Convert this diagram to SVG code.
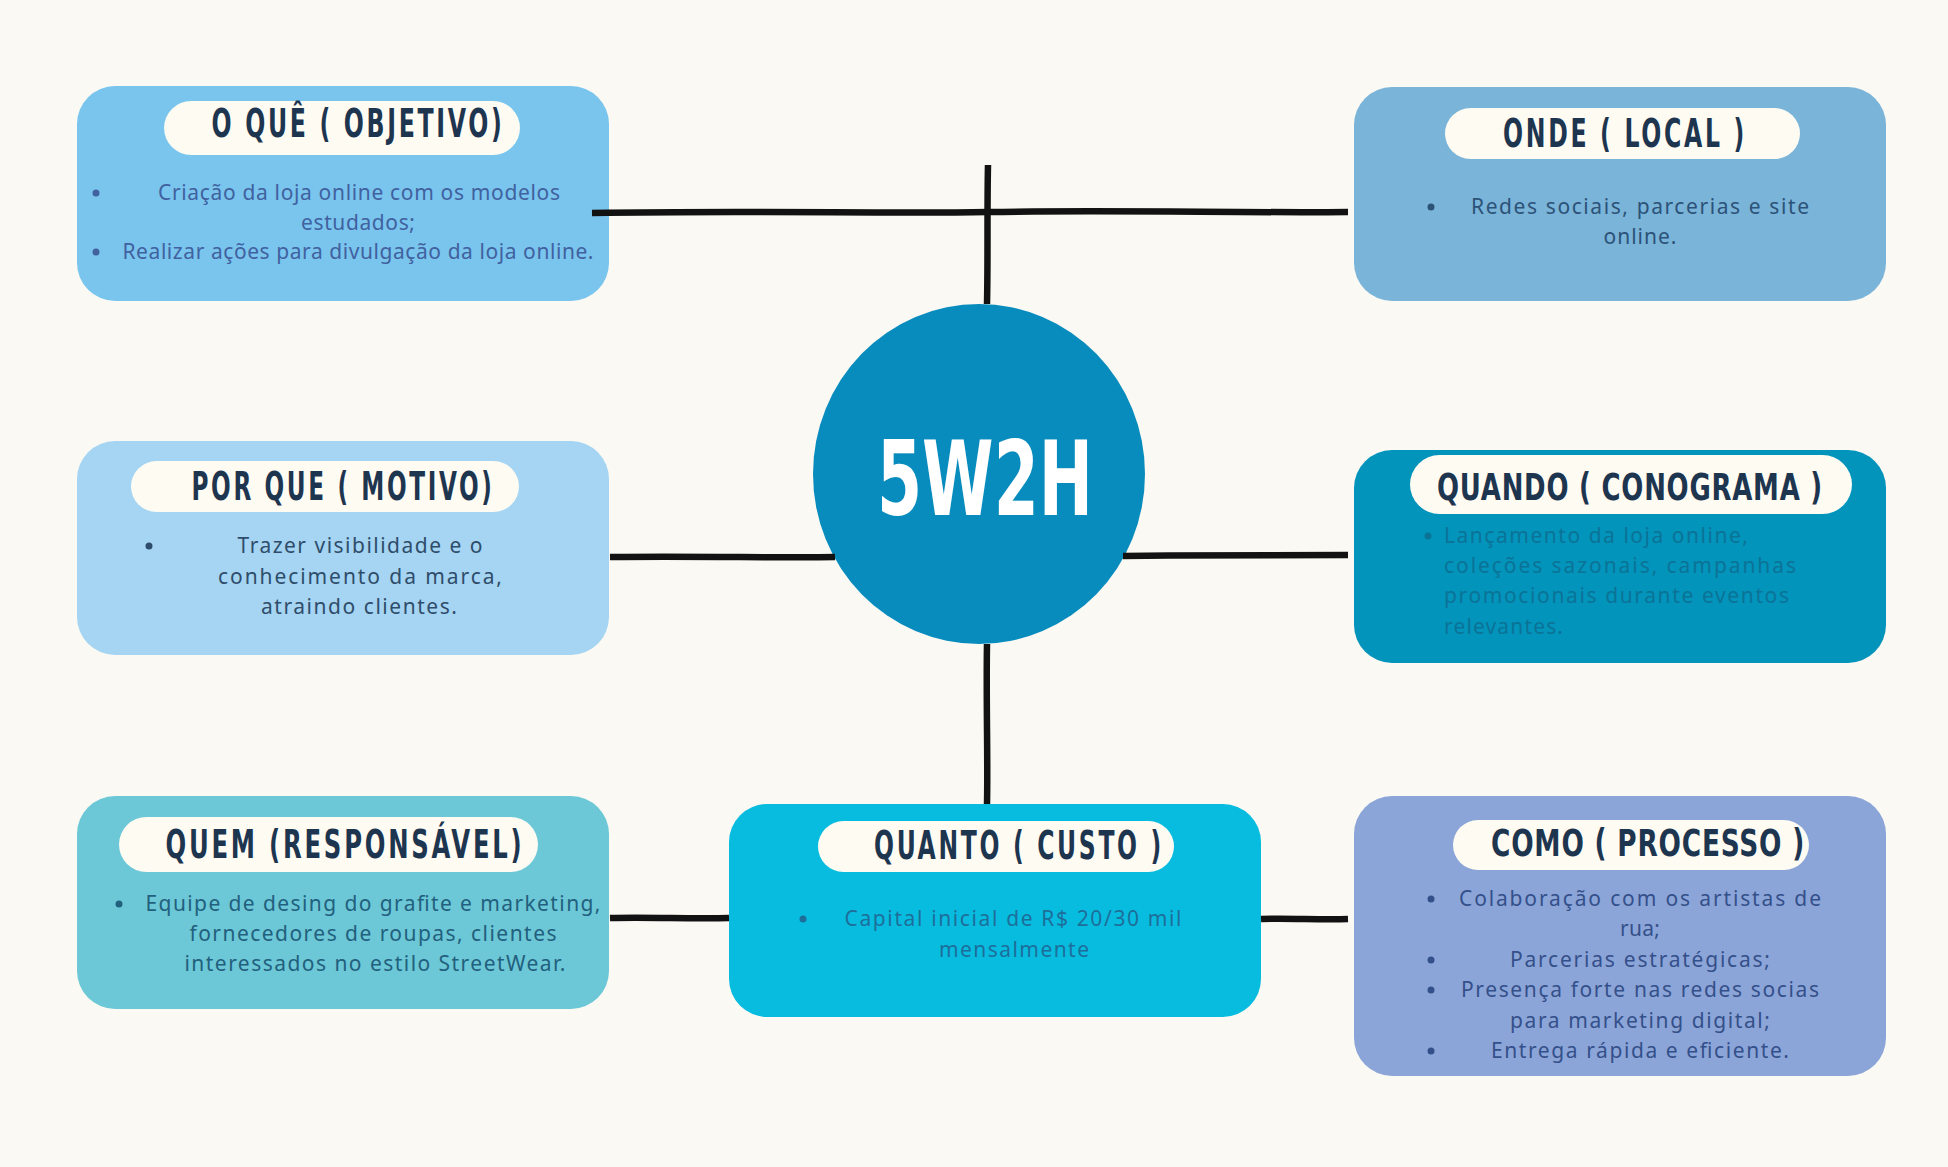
<svg xmlns="http://www.w3.org/2000/svg" width="1948" height="1167" viewBox="0 0 1948 1167">
  <style>
    .card { stroke: none; }
    .pill { fill: #FDFBF2; }
    .title { font-family: 'Liberation Sans Narrow', 'DejaVu Sans Condensed', 'DejaVu Sans', sans-serif; font-weight: bold; font-size: 39px; fill: #1E3550; letter-spacing: 4px; }
    .title.tight { font-size: 37px; letter-spacing: 1px; }
    .body { font-family: 'Noto Sans', 'Open Sans', sans-serif; font-size: 21px; }
    .hub { font-family: 'DejaVu Sans Condensed', 'DejaVu Sans', sans-serif; font-weight: bold; font-size: 104px; fill: #FFFFFF; }
    .line { fill: none; stroke: #121212; stroke-width: 6.5; stroke-linecap: butt; stroke-linejoin: round; }
  </style>

  <!-- page -->
  <rect x="0" y="0" width="1948" height="1167" fill="#FAF9F3"/>

  <!-- O QUÊ -->
  <g id="node-oque">
    <rect class="card" x="77" y="86" width="532" height="215" rx="38" fill="#79C5EE"/>
    <rect class="pill" x="164" y="101" width="356" height="54" rx="27"/>
    <text class="title" x="358" y="137" text-anchor="middle" textLength="293" lengthAdjust="spacingAndGlyphs">O QUÊ ( OBJETIVO)</text>
    <g fill="#41619F">
      <circle cx="96" cy="193" r="3.5"/>
      <circle cx="96" cy="252" r="3.5"/>
      <text class="body" x="359" y="200" text-anchor="middle" textLength="402">Criação da loja online com os modelos</text>
      <text class="body" x="358" y="230" text-anchor="middle" textLength="114">estudados;</text>
      <text class="body" x="358" y="259" text-anchor="middle" textLength="471">Realizar ações para divulgação da loja online.</text>
    </g>
  </g>

  <!-- ONDE -->
  <g id="node-onde">
    <rect class="card" x="1354" y="87" width="532" height="214" rx="38" fill="#7AB4D8"/>
    <rect class="pill" x="1445" y="108" width="355" height="51" rx="25.5"/>
    <text class="title" x="1625" y="147" text-anchor="middle" textLength="244" lengthAdjust="spacingAndGlyphs">ONDE ( LOCAL )</text>
    <g fill="#2C5278">
      <circle cx="1431" cy="207" r="3.5"/>
      <text class="body" x="1640" y="214" text-anchor="middle" textLength="338">Redes sociais, parcerias e site</text>
      <text class="body" x="1640" y="244" text-anchor="middle" textLength="73">online.</text>
    </g>
  </g>

  <!-- POR QUE -->
  <g id="node-porque">
    <rect class="card" x="77" y="441" width="532" height="214" rx="38" fill="#A5D5F2"/>
    <rect class="pill" x="131" y="461" width="388" height="51" rx="25.5"/>
    <text class="title" x="343" y="500" text-anchor="middle" textLength="303" lengthAdjust="spacingAndGlyphs">POR QUE ( MOTIVO)</text>
    <g fill="#2F4D6B">
      <circle cx="149" cy="546" r="3.5"/>
      <text class="body" x="360" y="553" text-anchor="middle" textLength="245">Trazer visibilidade e o</text>
      <text class="body" x="360" y="584" text-anchor="middle" textLength="284">conhecimento da marca,</text>
      <text class="body" x="359" y="614" text-anchor="middle" textLength="196">atraindo clientes.</text>
    </g>
  </g>

  <!-- QUANDO -->
  <g id="node-quando">
    <rect class="card" x="1354" y="450" width="532" height="213" rx="38" fill="#0394BC"/>
    <rect class="pill" x="1410" y="455" width="442" height="59" rx="29.5"/>
    <text class="title tight" x="1630" y="500" text-anchor="middle" textLength="386" lengthAdjust="spacingAndGlyphs">QUANDO ( CONOGRAMA )</text>
    <g fill="#0B7396">
      <circle cx="1428" cy="536" r="3.5"/>
      <text class="body" x="1444" y="543" textLength="304">Lançamento da loja online,</text>
      <text class="body" x="1444" y="573" textLength="352">coleções sazonais, campanhas</text>
      <text class="body" x="1444" y="603" textLength="345">promocionais durante eventos</text>
      <text class="body" x="1444" y="634" textLength="119">relevantes.</text>
    </g>
  </g>

  <!-- QUEM -->
  <g id="node-quem">
    <rect class="card" x="77" y="796" width="532" height="213" rx="38" fill="#6CC8D6"/>
    <rect class="pill" x="119" y="817" width="419" height="55" rx="27.5"/>
    <text class="title" x="345" y="858" text-anchor="middle" textLength="359" lengthAdjust="spacingAndGlyphs">QUEM (RESPONSÁVEL)</text>
    <g fill="#22607E">
      <circle cx="119" cy="904" r="3.5"/>
      <text class="body" x="373" y="911" text-anchor="middle" textLength="455">Equipe de desing do grafite e marketing,</text>
      <text class="body" x="373" y="941" text-anchor="middle" textLength="367">fornecedores de roupas, clientes</text>
      <text class="body" x="375" y="971" text-anchor="middle" textLength="381">interessados no estilo StreetWear.</text>
    </g>
  </g>

  <!-- QUANTO -->
  <g id="node-quanto">
    <rect class="card" x="729" y="804" width="532" height="213" rx="38" fill="#08BCE0"/>
    <rect class="pill" x="818" y="821" width="356" height="51" rx="25.5"/>
    <text class="title" x="1019" y="859" text-anchor="middle" textLength="290" lengthAdjust="spacingAndGlyphs">QUANTO ( CUSTO )</text>
    <g fill="#1D6F9A">
      <circle cx="803" cy="919" r="3.5"/>
      <text class="body" x="1013" y="926" text-anchor="middle" textLength="337">Capital inicial de R$ 20/30 mil</text>
      <text class="body" x="1014" y="957" text-anchor="middle" textLength="150">mensalmente</text>
    </g>
  </g>

  <!-- COMO -->
  <g id="node-como">
    <rect class="card" x="1354" y="796" width="532" height="280" rx="38" fill="#8CA5D8"/>
    <rect class="pill" x="1453" y="820" width="356" height="50" rx="25"/>
    <text class="title tight" x="1648" y="856" text-anchor="middle" textLength="314" lengthAdjust="spacingAndGlyphs">COMO ( PROCESSO )</text>
    <g fill="#34508A">
      <circle cx="1431" cy="899" r="3.5"/>
      <circle cx="1431" cy="960" r="3.5"/>
      <circle cx="1431" cy="990" r="3.5"/>
      <circle cx="1431" cy="1051" r="3.5"/>
      <text class="body" x="1640" y="906" text-anchor="middle" textLength="362">Colaboração com os artistas de</text>
      <text class="body" x="1640" y="936" text-anchor="middle" textLength="40">rua;</text>
      <text class="body" x="1640" y="967" text-anchor="middle" textLength="260">Parcerias estratégicas;</text>
      <text class="body" x="1640" y="997" text-anchor="middle" textLength="358">Presença forte nas redes socias</text>
      <text class="body" x="1640" y="1028" text-anchor="middle" textLength="260">para marketing digital;</text>
      <text class="body" x="1640" y="1058" text-anchor="middle" textLength="298">Entrega rápida e eficiente.</text>
    </g>
  </g>

  <!-- central hub -->
  <g id="node-5w2h">
    <ellipse cx="979" cy="474" rx="166" ry="170" fill="#088CBE"/>
    <text class="hub" x="985" y="515" text-anchor="middle" textLength="216" lengthAdjust="spacingAndGlyphs">5W2H</text>
  </g>

  <!-- marker-drawn connectors -->
  <g id="connectors">
    <path class="line" d="M592 213 C760 210 880 214 988 212 C1120 210 1240 213 1348 212"/>
    <path class="line" d="M988 165 C987 210 988 260 987 304"/>
    <path class="line" d="M610 557 C700 556 780 558 835 557"/>
    <path class="line" d="M1123 556 C1200 555 1280 556 1348 555"/>
    <path class="line" d="M987 644 C986 700 988 760 987 804"/>
    <path class="line" d="M610 918 C650 917 690 919 729 918"/>
    <path class="line" d="M1261 919 C1290 918 1320 920 1348 919"/>
  </g>
</svg>
